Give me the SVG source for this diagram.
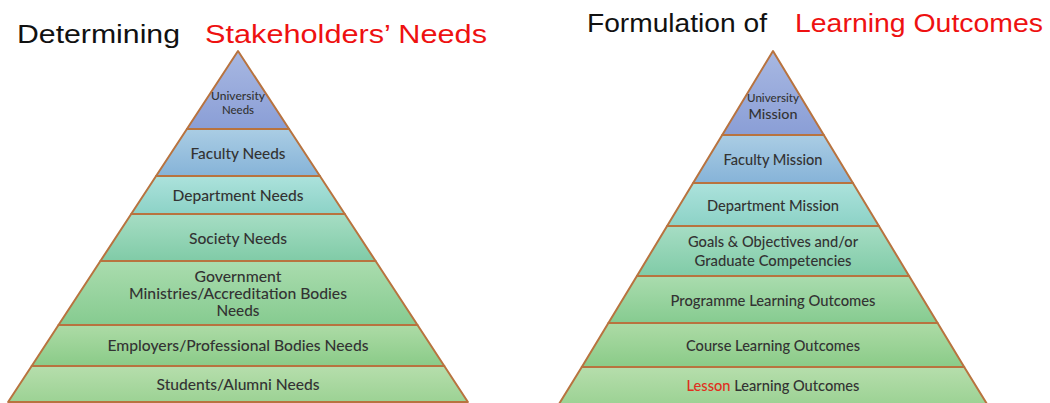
<svg xmlns="http://www.w3.org/2000/svg" width="1050" height="403" viewBox="0 0 1050 403">
  <defs>
    <linearGradient id="gUni" x1="0" y1="0" x2="0" y2="1">
      <stop offset="0" stop-color="#a8b8e2"/><stop offset="1" stop-color="#8a9ed6"/>
    </linearGradient>
    <linearGradient id="gFac" x1="0" y1="0" x2="0" y2="1">
      <stop offset="0" stop-color="#aacde4"/><stop offset="1" stop-color="#86b3d8"/>
    </linearGradient>
    <linearGradient id="gDep" x1="0" y1="0" x2="0" y2="1">
      <stop offset="0" stop-color="#ace2dc"/><stop offset="1" stop-color="#8cd2c6"/>
    </linearGradient>
    <linearGradient id="gSoc" x1="0" y1="0" x2="0" y2="1">
      <stop offset="0" stop-color="#a6ddc4"/><stop offset="1" stop-color="#80cba7"/>
    </linearGradient>
    <linearGradient id="gGov" x1="0" y1="0" x2="0" y2="1">
      <stop offset="0" stop-color="#aadcae"/><stop offset="1" stop-color="#86cb90"/>
    </linearGradient>
    <linearGradient id="gEmp" x1="0" y1="0" x2="0" y2="1">
      <stop offset="0" stop-color="#addba6"/><stop offset="1" stop-color="#8acb88"/>
    </linearGradient>
    <linearGradient id="gStu" x1="0" y1="0" x2="0" y2="1">
      <stop offset="0" stop-color="#b6deac"/><stop offset="1" stop-color="#9cd294"/>
    </linearGradient>
  </defs>
  <style>
    .tier { stroke: #b8733f; stroke-width: 2; stroke-linejoin: round; }
    .lbl { font-family: Lato, "Liberation Sans", sans-serif; font-size: 15.5px; font-weight: 500; fill: #333333; text-anchor: middle; }
    .sm { font-size: 10.5px; }
    .hd { font-family: "Liberation Sans", Arial, sans-serif; font-size: 26px; }
    .blk { fill: #111111; }
    .red { fill: #ee1111; }
  </style>

  <rect width="1050" height="403" fill="#ffffff"/>

  <!-- headings -->
  <g id="title-left">
    <text class="hd blk" x="17" y="43" textLength="163" lengthAdjust="spacingAndGlyphs">Determining</text>
    <text class="hd red" x="205" y="43" textLength="282" lengthAdjust="spacingAndGlyphs">Stakeholders’ Needs</text>
  </g>
  <g id="title-right">
    <text class="hd blk" x="587" y="32" textLength="180" lengthAdjust="spacingAndGlyphs">Formulation of</text>
    <text class="hd red" x="795" y="32" textLength="248" lengthAdjust="spacingAndGlyphs">Learning Outcomes</text>
  </g>

  <!-- left pyramid: apex (238,51), half-width grows 0.655 px per px -->
  <g id="stakeholder-pyramid">
    <g id="l-university">
      <polygon class="tier" fill="url(#gUni)" points="238,51 289.1,129 186.9,129"/>
      <text class="lbl sm" x="238" y="99.5" textLength="54" lengthAdjust="spacingAndGlyphs">University</text>
      <text class="lbl sm" x="238" y="113.5" textLength="32" lengthAdjust="spacingAndGlyphs">Needs</text>
    </g>
    <g id="l-faculty">
      <polygon class="tier" fill="url(#gFac)" points="186.9,129 289.1,129 319.9,176 156.1,176"/>
      <text class="lbl" x="238" y="158.5" textLength="95" lengthAdjust="spacingAndGlyphs">Faculty Needs</text>
    </g>
    <g id="l-department">
      <polygon class="tier" fill="url(#gDep)" points="156.1,176 319.9,176 344.8,214 131.2,214"/>
      <text class="lbl" x="238" y="201" textLength="131" lengthAdjust="spacingAndGlyphs">Department Needs</text>
    </g>
    <g id="l-society">
      <polygon class="tier" fill="url(#gSoc)" points="131.2,214 344.8,214 375.6,261 100.4,261"/>
      <text class="lbl" x="238" y="243.5" textLength="98" lengthAdjust="spacingAndGlyphs">Society Needs</text>
    </g>
    <g id="l-government">
      <polygon class="tier" fill="url(#gGov)" points="100.4,261 375.6,261 417.5,325 58.5,325"/>
      <text class="lbl" x="238" y="282" textLength="87" lengthAdjust="spacingAndGlyphs">Government</text>
      <text class="lbl" x="238" y="298.5" textLength="218" lengthAdjust="spacingAndGlyphs">Ministries/Accreditation Bodies</text>
      <text class="lbl" x="238" y="315.5" textLength="43" lengthAdjust="spacingAndGlyphs">Needs</text>
    </g>
    <g id="l-employers">
      <polygon class="tier" fill="url(#gEmp)" points="58.5,325 417.5,325 444.3,366 31.7,366"/>
      <text class="lbl" x="238" y="351" textLength="261" lengthAdjust="spacingAndGlyphs">Employers/Professional Bodies Needs</text>
    </g>
    <g id="l-students">
      <polygon class="tier" fill="url(#gStu)" points="31.7,366 444.3,366 467.9,402 8.1,402"/>
      <text class="lbl" x="238" y="389.5" textLength="163" lengthAdjust="spacingAndGlyphs">Students/Alumni Needs</text>
    </g>
  </g>

  <!-- right pyramid: apex (773,51), half-width grows 0.605 px per px -->
  <g id="outcome-pyramid">
    <g id="r-university">
      <polygon class="tier" fill="url(#gUni)" points="773,51 823.8,135 722.2,135"/>
      <text class="lbl sm" x="773" y="101.5" textLength="52" lengthAdjust="spacingAndGlyphs">University</text>
      <text class="lbl" x="773" y="119" textLength="49" lengthAdjust="spacingAndGlyphs" style="font-size:13.5px">Mission</text>
    </g>
    <g id="r-faculty">
      <polygon class="tier" fill="url(#gFac)" points="722.2,135 823.8,135 852.9,183 693.1,183"/>
      <text class="lbl" x="773" y="164.5" textLength="99" lengthAdjust="spacingAndGlyphs">Faculty Mission</text>
    </g>
    <g id="r-department">
      <polygon class="tier" fill="url(#gDep)" points="693.1,183 852.9,183 878.9,226 667.1,226"/>
      <text class="lbl" x="773" y="211" textLength="132" lengthAdjust="spacingAndGlyphs">Department Mission</text>
    </g>
    <g id="r-goals">
      <polygon class="tier" fill="url(#gSoc)" points="667.1,226 878.9,226 909.1,276 636.9,276"/>
      <text class="lbl" x="773" y="247" textLength="170" lengthAdjust="spacingAndGlyphs">Goals &amp; Objectives and/or</text>
      <text class="lbl" x="773" y="265.5" textLength="157" lengthAdjust="spacingAndGlyphs">Graduate Competencies</text>
    </g>
    <g id="r-programme">
      <polygon class="tier" fill="url(#gGov)" points="636.9,276 909.1,276 937.6,323 608.4,323"/>
      <text class="lbl" x="773" y="306" textLength="205" lengthAdjust="spacingAndGlyphs">Programme Learning Outcomes</text>
    </g>
    <g id="r-course">
      <polygon class="tier" fill="url(#gEmp)" points="608.4,323 937.6,323 964.2,367 581.8,367"/>
      <text class="lbl" x="773" y="351" textLength="174" lengthAdjust="spacingAndGlyphs">Course Learning Outcomes</text>
    </g>
    <g id="r-lesson">
      <polygon class="tier" fill="url(#gStu)" points="581.8,367 964.2,367 987,404 559,404"/>
      <text class="lbl" x="773" y="391" textLength="173" lengthAdjust="spacingAndGlyphs"><tspan fill="#e03020">Lesson</tspan> Learning Outcomes</text>
    </g>
  </g>

  <!-- no connectors in this figure -->
  <g id="connectors"/>
</svg>
